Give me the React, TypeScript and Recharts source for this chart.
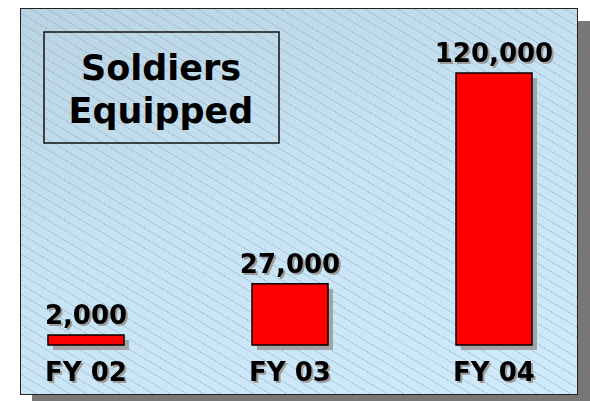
import React from 'react';
import { BarChart, Bar, XAxis, YAxis, LabelList } from 'recharts';

const years = ['FY 02', 'FY 03', 'FY 04'];
const soldiers = [2000, 27000, 120000];
const titleLines = ['Soldiers', 'Equipped'];

const chartData = years.map((year, i) => ({ year, soldiers: soldiers[i] }));

const FONT = '"DejaVu Sans", Verdana, sans-serif';
const TEXT_SHADOW = 'drop-shadow(2px 2px 0 #9c9c9c)';

const ShadowBar = (props: any) => {
  const { x, y, width, height } = props;
  return (
    <g>
      <rect x={x + 5} y={y + 5} width={width} height={height} fill="#a4a4a4" />
      <rect x={x} y={y} width={width} height={height} fill="#ff0000" stroke="#000" strokeWidth={1.5} />
    </g>
  );
};

const ValueLabel = (props: any) => {
  const { x, y, width, value } = props;
  return (
    <text
      x={x + width / 2}
      y={y - 11}
      textAnchor="middle"
      fill="#000"
      style={{ fontFamily: FONT, fontWeight: 'bold', fontSize: 26, filter: TEXT_SHADOW }}
    >
      {Number(value).toLocaleString('en-US')}
    </text>
  );
};

const YearTick = (props: any) => {
  const { x, y, payload } = props;
  return (
    <text
      x={x}
      y={y}
      dy={36}
      textAnchor="middle"
      fill="#000"
      style={{ fontFamily: FONT, fontWeight: 'bold', fontSize: 26, filter: TEXT_SHADOW }}
    >
      {payload.value}
    </text>
  );
};

const App = () => {
  return (
    <div style={{ position: 'fixed', left: 0, top: 0, width: 590, height: 401, background: '#fff' }}>
      {/* panel with drop shadow and hatching */}
      <div
        style={{
          position: 'absolute',
          left: 20,
          top: 8,
          width: 556,
          height: 385,
          border: '1.5px solid #222',
          boxShadow: '12px 13px 0 #777',
          backgroundImage:
            'repeating-linear-gradient(31deg, rgba(140,160,180,0) 0px, rgba(140,160,180,0) 7.6px, rgba(140,160,180,0.4) 7.6px, rgba(140,160,180,0.4) 8.6px), linear-gradient(160deg, #b9d3e2 0%, #c6e2f3 45%, #cfebfb 100%)',
        }}
      />
      <BarChart
        width={590}
        height={401}
        data={chartData}
        margin={{ top: 73, right: 0, left: 0, bottom: 0 }}
        style={{ position: 'absolute', left: 0, top: 0 }}
      >
        <XAxis
          dataKey="year"
          scale="point"
          padding={{ left: 86, right: 96 }}
          axisLine={false}
          tickLine={false}
          tickSize={0}
          tickMargin={0}
          height={56}
          tick={<YearTick />}
          interval={0}
        />
        <YAxis hide domain={[0, 120000]} />
        <Bar
          dataKey="soldiers"
          barSize={76}
          minPointSize={10}
          shape={<ShadowBar />}
          isAnimationActive={false}
        >
          <LabelList dataKey="soldiers" content={<ValueLabel />} />
        </Bar>
      </BarChart>
      {/* title box */}
      <svg width={590} height={401} style={{ position: 'absolute', left: 0, top: 0, pointerEvents: 'none' }}>
        <rect x={44} y={32} width={235} height={111} fill="none" stroke="#111" strokeWidth={1.5} />
        {titleLines.map((line, i) => (
          <text
            key={line}
            x={161}
            y={80 + i * 43}
            textAnchor="middle"
            style={{ fontFamily: FONT, fontWeight: 'bold', fontSize: 35 }}
            fill="#000"
          >
            {line}
          </text>
        ))}
      </svg>
    </div>
  );
};

export default App;
